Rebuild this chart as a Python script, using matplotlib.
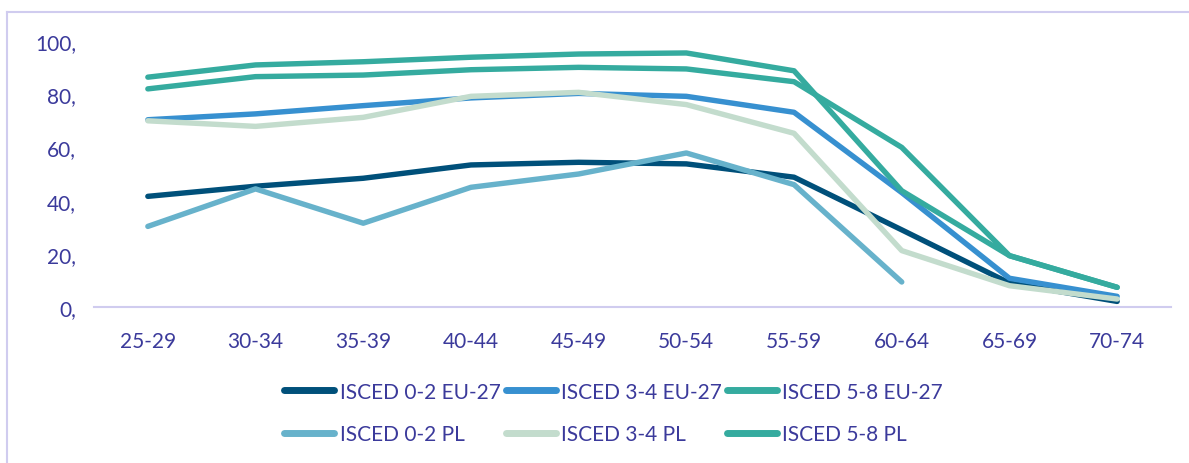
import matplotlib.pyplot as plt
from matplotlib.lines import Line2D

plt.rcParams['font.family'] = ['Lato', 'DejaVu Sans']

age_groups = ['25-29', '30-34', '35-39', '40-44', '45-49',
              '50-54', '55-59', '60-64', '65-69', '70-74']

isced02_eu = [41.6, 45.4, 48.4, 53.4, 54.4, 53.8, 48.8, 29.0, 9.0, 2.1]
isced34_eu = [70.4, 72.6, 75.7, 78.6, 80.3, 79.2, 73.2, 43.0, 10.8, 4.0]
isced58_eu = [82.0, 86.6, 87.2, 89.2, 90.1, 89.5, 84.7, 60.0, 19.3, 7.4]
isced02_pl = [30.3, 44.4, 31.5, 45.0, 50.0, 57.9, 46.0, 9.4, None, None]
isced34_pl = [70.0, 67.9, 71.3, 79.2, 80.7, 76.1, 65.3, 21.2, 8.0, 3.0]
isced58_pl = [86.4, 91.0, 92.2, 93.9, 95.1, 95.5, 88.8, 43.7, 19.3, 7.4]

series = [
    ('ISCED 0-2 EU-27', isced02_eu, '#00507a'),
    ('ISCED 3-4 EU-27', isced34_eu, '#3790d0'),
    ('ISCED 5-8 EU-27', isced58_eu, '#35ab9f'),
    ('ISCED 0-2 PL', isced02_pl, '#67b2cb'),
    ('ISCED 3-4 PL', isced34_pl, '#c3dccd'),
    ('ISCED 5-8 PL', isced58_pl, '#35ab9f'),
]

text_color = '#3b3a9b'
grid_color = '#d0ccef'

fig = plt.figure(figsize=(11.89, 4.64), dpi=100)
ax = fig.add_axes([94 / 1189, 1 - 308 / 464, 1077 / 1189, 266 / 464])

x = list(range(len(age_groups)))
lines = {}
for name, vals, color in series:
    pts = [(i, v) for i, v in zip(x, vals) if v is not None]
    ln, = ax.plot([p[0] for p in pts], [p[1] for p in pts], color=color,
                  lw=3.9, solid_capstyle='round', solid_joinstyle='round',
                  label=name)
    lines[name] = ln

ax.set_xlim(-0.5, len(age_groups) - 0.5)
ax.set_ylim(0, 100)
ax.set_xticks(x)
ax.set_xticklabels(age_groups)
ax.set_yticks(range(0, 101, 20))
ax.set_yticklabels(['{},'.format(v) for v in range(0, 101, 20)])
ax.tick_params(length=0, labelsize=15, colors=text_color)
ax.tick_params(axis='x', pad=17)
ax.tick_params(axis='y', pad=13)
for s in ['top', 'right', 'left']:
    ax.spines[s].set_visible(False)
ax.spines['bottom'].set_color(grid_color)
ax.spines['bottom'].set_linewidth(1.5)

# legend: EU-27 on first row, PL on second
order = ['ISCED 0-2 EU-27', 'ISCED 0-2 PL', 'ISCED 3-4 EU-27',
         'ISCED 3-4 PL', 'ISCED 5-8 EU-27', 'ISCED 5-8 PL']
handles = [Line2D([], [], color=lines[n].get_color(), lw=5,
                  solid_capstyle='round') for n in order]
leg = fig.legend(handles, order, ncol=3, frameon=False,
                 loc='center left', bbox_to_anchor=(274 / 1189, 1 - 414 / 464),
                 fontsize=15, handlelength=2.4, handletextpad=0.25,
                 columnspacing=0.25, labelspacing=1.1, borderpad=0)
for t in leg.get_texts():
    t.set_color(text_color)

# outer frame (left and top edges)
fig.add_artist(Line2D([7 / 1189, 7 / 1189], [0, 1 - 13 / 464],
                      color=grid_color, lw=1.5, transform=fig.transFigure))
fig.add_artist(Line2D([7 / 1189, 1], [1 - 13 / 464, 1 - 13 / 464],
                      color=grid_color, lw=1.5, transform=fig.transFigure))

fig.savefig('out.png', dpi=100, facecolor='white')
